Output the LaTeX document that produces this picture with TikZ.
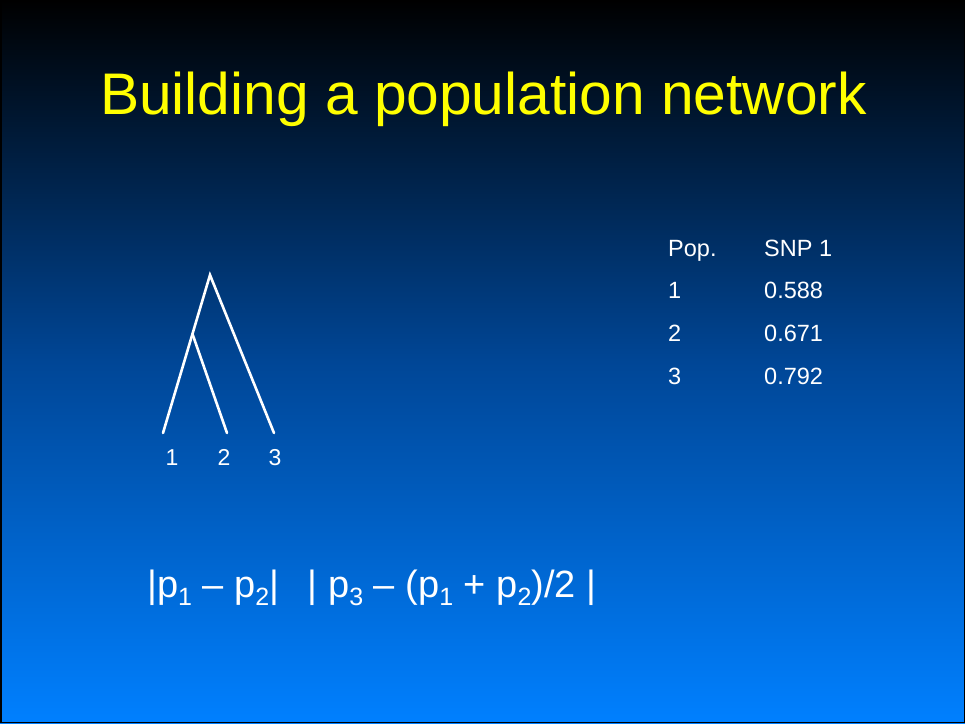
\documentclass[tikz,border=0pt]{standalone}
\usepackage{fontspec}
\setmainfont{Liberation Sans}
\usetikzlibrary{calc}
\definecolor{bgtop}{RGB}{0,0,0}
\definecolor{bgbot}{RGB}{0,128,255}
\definecolor{titleyellow}{RGB}{255,255,0}
\begin{document}
\begin{tikzpicture}[x=1pt,y=1pt,
  lbl/.style={text=white,font=\fontsize{23}{26}\selectfont,inner sep=0pt,anchor=base},
  tl/.style={text=white,font=\fontsize{23.5}{26}\selectfont,inner sep=0pt,anchor=base west},
  branch/.style={draw=white,line width=2.6pt,line cap=round}]
\useasboundingbox (0,0) rectangle (965,723);
\shade[top color=bgtop,bottom color=bgbot,middle color={rgb,255:red,0;green,70;blue,150}] (0,0) rectangle (965,723);
\draw[black,line width=1.5pt] (0.75,0.75) rectangle (964.25,722.25);
% title
\node[text=titleyellow,font=\fontsize{58.7}{66}\selectfont,inner sep=0pt,anchor=base] (title) at (483.5,608) {Building a population network};
% tree
\coordinate (root) at (210,448);
\coordinate (l1) at (163,290);
\coordinate (l2) at (227,290);
\coordinate (l3) at (274,290);
\coordinate (inner) at ($(root)!0.373!(l1)$);
\draw[branch] (l1) -- (root) -- (l3);
\draw[branch] (inner) -- (l2);
\node[lbl] (n1) at (172,257.5) {1};
\node[lbl] (n2) at (224,257.5) {2};
\node[lbl] (n3) at (275,257.5) {3};
% table
\node[tl] (hpop) at (668,466.5) {Pop.};
\node[tl] (hsnp) at (764,466.5) {SNP 1};
\node[tl] (r1a) at (668,424.5) {1};
\node[tl] (r1b) at (764,424.5) {0.588};
\node[tl] (r2a) at (668,381.5) {2};
\node[tl] (r2b) at (764,381.5) {0.671};
\node[tl] (r3a) at (668,338.5) {3};
\node[tl] (r3b) at (764,338.5) {0.792};
% formula
\newcommand{\sbx}[1]{\raisebox{-8pt}{\fontsize{25}{27}\selectfont #1}}
\node[text=white,font=\fontsize{38}{42}\selectfont,inner sep=0pt,anchor=base west] (formula) at (147,126)
  {|p\sbx{1} – p\sbx{2}|\hspace{0.75em}| p\sbx{3} – (p\sbx{1} + p\sbx{2})/2 |};
\end{tikzpicture}
\end{document}
